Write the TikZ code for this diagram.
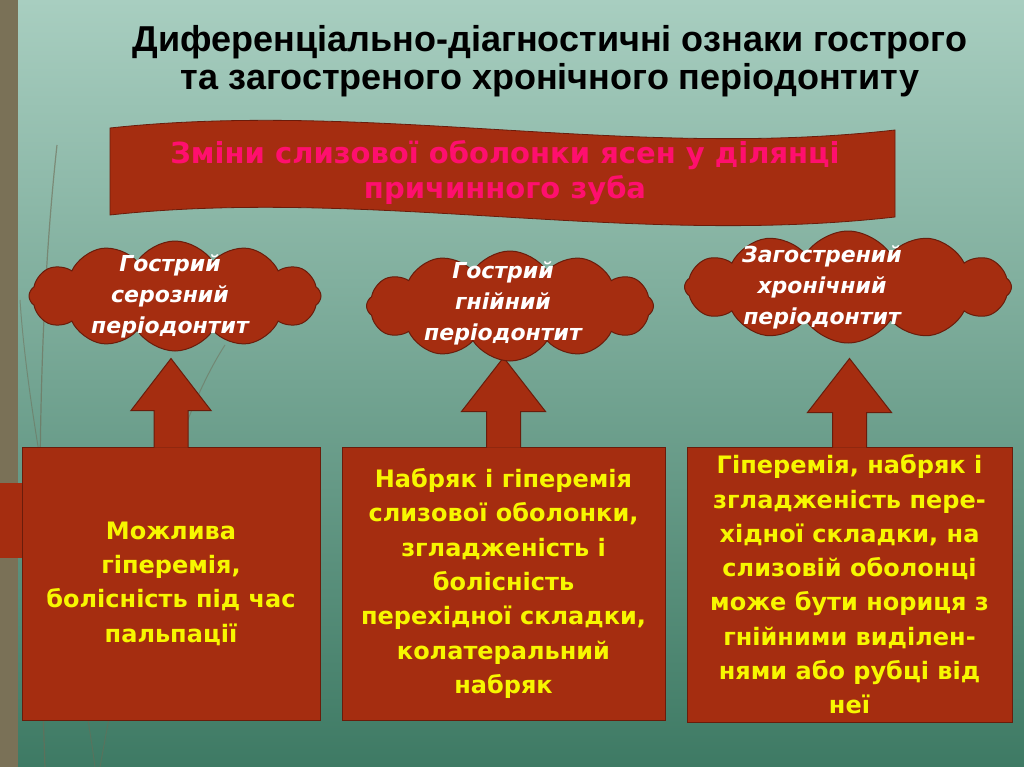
\documentclass[tikz,border=0pt]{standalone}
\usepackage{fontspec}
\setmainfont{DejaVu Sans}
\newfontfamily\titlefont{Liberation Sans}
\usetikzlibrary{shapes.symbols, positioning, calc}
\definecolor{bgtop}{HTML}{A8CEC0}
\definecolor{bgmid}{HTML}{6DAF98}
\definecolor{bgbot}{HTML}{3E7A64}
\definecolor{brick}{HTML}{A52D10}
\definecolor{brickdark}{HTML}{6A1C0B}
\definecolor{signyellow}{HTML}{F7F700}
\definecolor{signpink}{HTML}{FF0F6E}
\definecolor{stripe}{HTML}{7A7157}
\definecolor{blade}{HTML}{6E6B55}

\begin{document}
\begin{tikzpicture}[
  x=1pt, y=-1pt,
  every node/.style={font=\bfseries},
  cloudnode/.style={cloud, cloud puffs=12, cloud puff arc=115, cloud ignores aspect, draw=brickdark, fill=brick, line width=1pt, inner sep=0pt},
  cloudtext/.style={text=white, align=center, font=\bfseries\itshape\fontsize{22}{31}\selectfont},
  signbox/.style={rectangle, draw=brickdark, fill=brick, line width=1pt, text=signyellow, align=center, font=\bfseries\fontsize{24}{34.3}\selectfont, inner sep=0pt},
  uparrow/.style={draw=brickdark, fill=brick, line width=1pt, line join=miter},
]
% background
\fill[top color=bgtop, middle color=bgmid, bottom color=bgbot] (0,0) rectangle (1024,767);
\useasboundingbox (0,0) rectangle (1024,767);
\fill[stripe] (0,0) rectangle (18,767);
\draw[blade, line width=1.2pt, opacity=0.6] (45,767) .. controls (35,500) and (40,300) .. (57,145);
\draw[blade, line width=1pt, opacity=0.5] (100,767) .. controls (130,600) and (170,430) .. (225,345);
\draw[blade, line width=1pt, opacity=0.5] (95,767) .. controls (80,650) and (30,450) .. (20,300);
\fill[brick] (0,483) rectangle (22,558);

% title
\node[font=\titlefont\bfseries\fontsize{36}{38}\selectfont, align=center] (title) at (550,61) {Диференціально-діагностичні ознаки гострого\\та загостреного хронічного періодонтиту};

% banner
\draw[brickdark, fill=brick, line width=0.8pt] (110,128) .. controls (370,100) and (630,160) .. (895,130) -- (895,217) .. controls (630,247) and (370,187) .. (110,215) -- cycle;
\node[text=signpink, font=\bfseries\fontsize{29}{35}\selectfont, align=center] (banner) at (505,173) {Зміни слизової оболонки ясен у ділянці\\причинного зуба};

% boxes
\node[signbox, minimum width=298, minimum height=273] (b1) at (171,583.5) {Можлива\\гіперемія,\\болісність під час\\пальпації};
\node[signbox, minimum width=323, minimum height=273] (b2) at (503.5,583.5) {Набряк і гіперемія\\слизової оболонки,\\згладженість і\\болісність\\перехідної складки,\\колатеральний\\набряк};
\node[signbox, minimum width=325, minimum height=275] (b3) at (849.5,584.5) {Гіперемія, набряк і\\згладженість пере-\\хідної складки, на\\слизовій оболонці\\може бути нориця з\\гнійними виділен-\\нями або рубці від\\неї};

% arrows
\draw[uparrow] (b1.north) ++(-17,1) -- ++(0,-37) -- ++(-23,0) -- ++(40,-52) -- ++(40,52) -- ++(-23,0) -- ++(0,37);
\draw[uparrow] (b2.north) ++(-17,1) -- ++(0,-36) -- ++(-25,0) -- ++(42,-54) -- ++(42,54) -- ++(-25,0) -- ++(0,36);
\draw[uparrow] (b3.north) ++(-17,1) -- ++(0,-35) -- ++(-25,0) -- ++(42,-54) -- ++(42,54) -- ++(-25,0) -- ++(0,35);

% clouds
\node[cloudnode, minimum width=292, minimum height=110] (c1) at (175,296) {};
\node[cloudnode, minimum width=287, minimum height=110] (c2) at (510,306) {};
\node[cloudnode, minimum width=327, minimum height=112] (c3) at (848,287) {};
\node[cloudtext] (t1) at (170,296) {Гострий\\серозний\\періодонтит};
\node[cloudtext] (t2) at (503,303) {Гострий\\гнійний\\періодонтит};
\node[cloudtext] (t3) at (822,287) {Загострений\\хронічний\\періодонтит};
\end{tikzpicture}
\end{document}
